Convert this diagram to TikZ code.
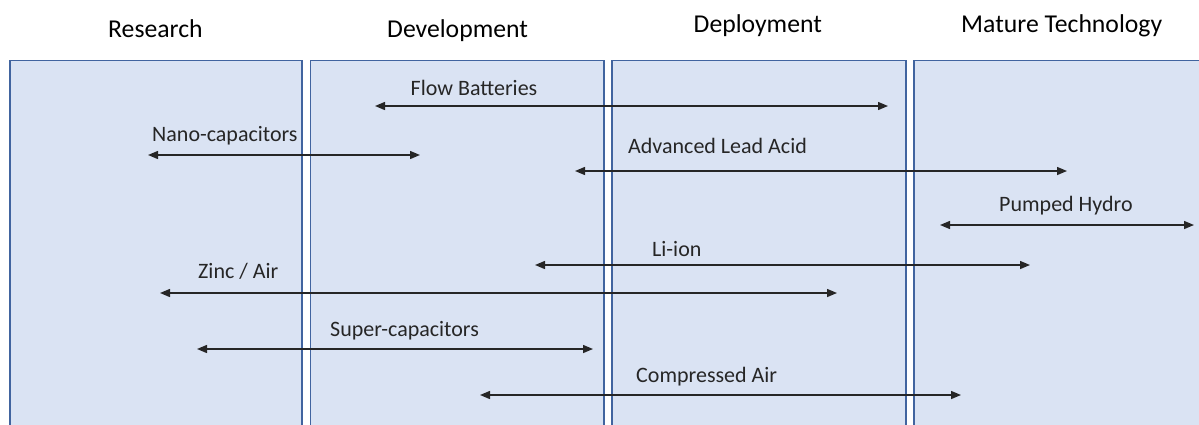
\documentclass[tikz,border=0pt]{standalone}
\usepackage{fontspec}
\setmainfont{Carlito}
\usetikzlibrary{arrows.meta}
\definecolor{panelfill}{HTML}{DAE3F3}
\definecolor{panelline}{HTML}{41649F}
\definecolor{inktext}{HTML}{262626}
\begin{document}
\begin{tikzpicture}[x=1pt,y=-1pt,
  panel/.style={draw=panelline,fill=panelfill,line width=1.3pt},
  stage/.style={font=\fontsize{25.7}{30}\selectfont,text=black,inner sep=0pt,anchor=base west},
  tech/.style={font=\fontsize{22}{26}\selectfont,text=inktext,inner sep=0pt,anchor=base west},
  span/.style={{Triangle[length=10pt,width=8pt]}-{Triangle[length=10pt,width=8pt]},line width=1.4pt,draw=inktext}]
\useasboundingbox (0,0) rectangle (1199,424);
\clip (0,0) rectangle (1199,424);

% stage columns
\path[panel] (10,60.5) rectangle (302,440);
\path[panel] (310.5,60.5) rectangle (604,440);
\path[panel] (612,60.5) rectangle (906,440);
\path[panel] (914,60.5) rectangle (1210,440);

% stage headings
\node[stage] (research) at (108,37) {Research};
\node[stage] (development) at (387,37) {Development};
\node[stage] (deployment) at (693.5,32) {Deployment};
\node[stage] (mature) at (961,32) {Mature Technology};

% technology labels
\node[tech] (flow) at (410.5,95) {Flow Batteries};
\node[tech] (nano) at (152,141.5) {Nano-capacitors};
\node[tech] (lead) at (628,153) {Advanced Lead Acid};
\node[tech] (hydro) at (999,211.5) {Pumped Hydro};
\node[tech] (liion) at (652,256) {Li-ion};
\node[tech] (zinc) at (198,278) {Zinc / Air};
\node[tech] (super) at (330,336) {Super-capacitors};
\node[tech] (air) at (636,382) {Compressed Air};

% ranges of each technology
\coordinate (flowL) at (375,106);   \coordinate (flowR) at (888,106);
\coordinate (nanoL) at (148,155);   \coordinate (nanoR) at (420,155);
\coordinate (leadL) at (575,171);   \coordinate (leadR) at (1067,171);
\coordinate (hydroL) at (940,225);  \coordinate (hydroR) at (1194,225);
\coordinate (liionL) at (535,265);  \coordinate (liionR) at (1030,265);
\coordinate (zincL) at (160,293);   \coordinate (zincR) at (837,293);
\coordinate (superL) at (197,349);  \coordinate (superR) at (593,349);
\coordinate (airL) at (480,395);    \coordinate (airR) at (961,395);

\draw[span] (flowL) -- (flowR);
\draw[span] (nanoL) -- (nanoR);
\draw[span] (leadL) -- (leadR);
\draw[span] (hydroL) -- (hydroR);
\draw[span] (liionL) -- (liionR);
\draw[span] (zincL) -- (zincR);
\draw[span] (superL) -- (superR);
\draw[span] (airL) -- (airR);
\end{tikzpicture}
\end{document}
